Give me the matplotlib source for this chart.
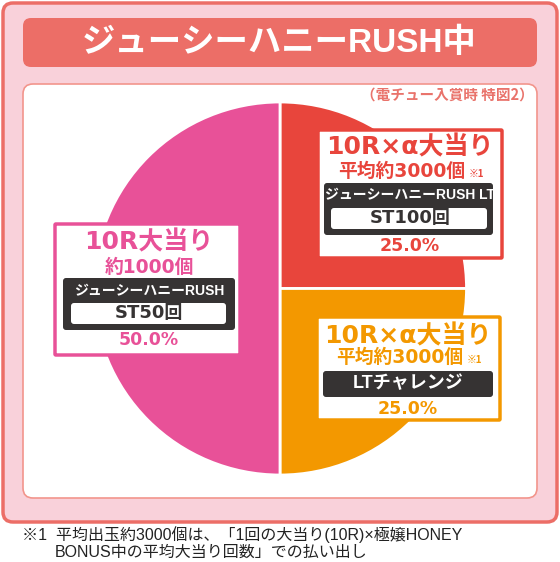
import matplotlib
matplotlib.use("Agg")
import matplotlib.pyplot as plt
from matplotlib.patches import FancyBboxPatch

plt.rcParams['font.family'] = ['Liberation Sans', 'Noto Sans CJK JP', 'DejaVu Sans']
JP = ['Noto Sans CJK JP', 'DejaVu Sans']
WIDE = ['DejaVu Sans', 'Noto Sans CJK JP']

# データ
title = "ジューシーハニーRUSH中"
subtitle = "（電チュー入賞時 特図2）"
slice_names = ["10R×α大当り", "10R×α大当り", "10R大当り"]
slice_sub = ["平均約3000個", "平均約3000個", "約1000個"]
slice_note = ["※1", "※1", None]
slice_mode = ["ジューシーハニーRUSH LT", "LTチャレンジ", "ジューシーハニーRUSH"]
slice_st = ["ST100回", None, "ST50回"]
slice_values = [25.0, 25.0, 50.0]
slice_colors = ["#E8453C", "#F39800", "#E85198"]
footnote = ["※1  平均出玉約3000個は、「1回の大当り(10R)×極嬢HONEY",
            "BONUS中の平均大当り回数」での払い出し"]

CORAL = "#EC6E67"
DARK = "#363333"

fig = plt.figure(figsize=(5.6, 5.62), dpi=100)
ax = fig.add_axes([0, 0, 1, 1])

# 円グラフ
wedges, _ = ax.pie(slice_values, colors=slice_colors, startangle=-90,
                   counterclock=True, center=(280, 288.5), radius=186.5,
                   wedgeprops=dict(edgecolor="white", linewidth=2))
for w in wedges:
    w.set_zorder(3)

ax.set_xlim(0, 560)
ax.set_ylim(562, 0)
ax.set_aspect("auto")
ax.axis("off")


def rbox(x0, y0, x1, y1, fc, ec="none", lw=0, r=4, z=2):
    p = FancyBboxPatch((x0, y0), x1 - x0, y1 - y0,
                       boxstyle=f"round,pad=0,rounding_size={r}",
                       fc=fc, ec=ec, lw=lw, zorder=z)
    ax.add_patch(p)


# 外枠
rbox(3, 3, 557, 522, "#F9D1DA", CORAL, 2.5, r=10, z=0)
rbox(23, 18, 537, 67, CORAL, r=8, z=1)
rbox(23, 84, 537, 498, "white", "#F2958C", 1.2, r=10, z=1)

ax.text(279, 43, title, color="white", fontsize=24, fontweight="bold",
        ha="center", va="center", zorder=5)
ax.text(534, 95, subtitle, color="#E9736B", fontsize=10.5, fontweight="bold",
        family=JP, ha="right", va="center", zorder=5)

# ラベル枠
boxes = [
    dict(box=(318, 130, 502, 258), dark=(324, 183, 493, 235),
         inner=(331, 208, 487, 229), ys=(147, 171, 195, 218, 246), cx=410),
    dict(box=(317, 317, 500, 420), dark=(323, 371, 493, 397),
         inner=None, ys=(336, 357, 384, None, 409), cx=408),
    dict(box=(55, 224, 240, 355), dark=(63, 278, 235, 330),
         inner=(71, 303, 226, 324), ys=(242, 267, 291, 313, 340), cx=149),
]

renderer = fig.canvas.get_renderer()
inv = ax.transData.inverted()

for i, b in enumerate(boxes):
    c = slice_colors[i]
    rbox(*b["box"], "white", c, 2.5, r=1, z=4)
    rbox(*b["dark"], DARK, r=3, z=5)
    if b["inner"] is not None:
        rbox(*b["inner"], "white", r=3, z=6)
    cx = b["cx"]
    y_name, y_sub, y_mode, y_st, y_pct = b["ys"]
    ax.text(cx, y_name, slice_names[i], color=c, fontsize=18, family=WIDE,
            fontweight="bold", ha="center", va="center", zorder=7)
    if slice_note[i] is not None:
        t = ax.text(cx - 8, y_sub, slice_sub[i], color=c, fontsize=13.5,
                    family=WIDE, fontweight="bold", ha="center", va="center",
                    zorder=7)
        bb = t.get_window_extent(renderer)
        x_end = inv.transform((bb.x1, bb.y0))[0]
        ax.text(x_end + 3, y_sub + 3, slice_note[i], color=c, fontsize=7,
                fontweight="bold", family=JP, ha="left", va="center",
                zorder=7)
    else:
        ax.text(cx, y_sub, slice_sub[i], color=c, fontsize=13.5, family=WIDE,
                fontweight="bold", ha="center", va="center", zorder=7)
    mode_fs = 13 if slice_st[i] is None else 10
    ax.text(cx, y_mode, slice_mode[i], color="white", fontsize=mode_fs,
            fontweight="bold", ha="center", va="center", zorder=7)
    if slice_st[i] is not None:
        ax.text(cx, y_st, slice_st[i], color=DARK, fontsize=13, family=WIDE,
                fontweight="bold", ha="center", va="center", zorder=7)
    ax.text(cx, y_pct, f"{slice_values[i]:.1f}%", color=c, fontsize=12.5,
            family=WIDE, fontweight="bold", ha="center", va="center",
            zorder=7)

# 注釈
ax.text(22, 535, footnote[0], color="#222222", fontsize=11.5,
        ha="left", va="center")
ax.text(55, 552, footnote[1], color="#222222", fontsize=11.5,
        ha="left", va="center")

fig.savefig("out.png", dpi=100)
